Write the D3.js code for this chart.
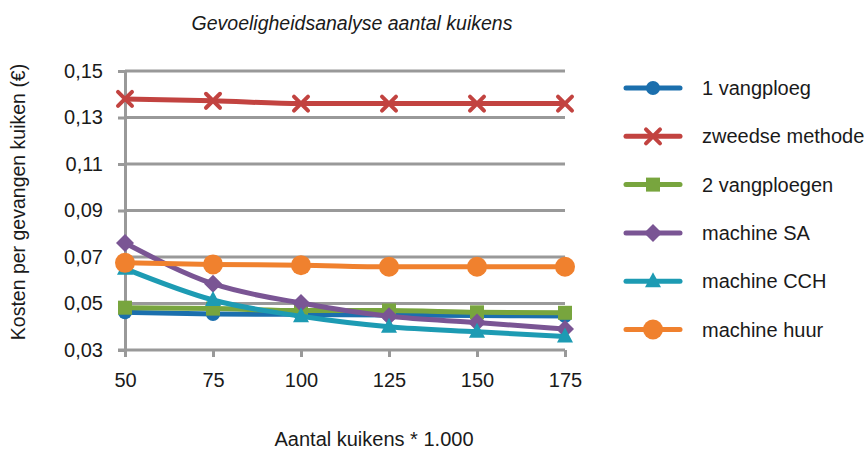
<!DOCTYPE html>
<html>
<head>
<meta charset="utf-8">
<script src="https://cdn.jsdelivr.net/npm/d3@7"></script>
<style>
  body { margin: 0; background: #fff; }
  text { font-family: "Liberation Sans", Arial, sans-serif; fill: #1a1a1a; }
</style>
</head>
<body>
<svg width="864" height="455"></svg>
<script>
// categories + series
var kuikens = ["50", "75", "100", "125", "150", "175"];
var yTicks = [0.03, 0.05, 0.07, 0.09, 0.11, 0.13, 0.15];

var vangploeg1 = [0.0462, 0.0455, 0.0453, 0.0450, 0.0448, 0.0446];
var zweedse    = [0.1380, 0.1372, 0.1360, 0.1360, 0.1360, 0.1360];
var vangploeg2 = [0.0482, 0.0478, 0.0470, 0.0470, 0.0462, 0.0460];
var machineSA  = [0.0760, 0.0585, 0.0502, 0.0445, 0.0418, 0.0390];
var machineCCH = [0.0650, 0.0515, 0.0445, 0.0400, 0.0378, 0.0358];
var machineHuur = [0.0675, 0.0668, 0.0665, 0.0658, 0.0658, 0.0658];

var series = [
  {name: "1 vangploeg", values: vangploeg1, color: "#1b6fad", marker: "circle"},
  {name: "zweedse methode", values: zweedse, color: "#c24340", marker: "cross"},
  {name: "2 vangploegen", values: vangploeg2, color: "#78a53e", marker: "square"},
  {name: "machine SA", values: machineSA, color: "#7a5594", marker: "diamond"},
  {name: "machine CCH", values: machineCCH, color: "#1d9bb3", marker: "triangle"},
  {name: "machine huur", values: machineHuur, color: "#f0812e", marker: "bigcircle"}
];

var margin = {top: 71, left: 125, right: 299, bottom: 105};
var width = 864 - margin.left - margin.right;   // 440
var height = 455 - margin.top - margin.bottom;  // 279

var svg = d3.select("svg");
var g = svg.append("g")
    .attr("transform", "translate(" + margin.left + "," + margin.top + ")");

var x = d3.scalePoint().domain(kuikens).range([0, width]);
var y = d3.scaleLinear().domain([0.03, 0.15]).range([height, 0]);
var fmt = function(d) { return d3.format(".2f")(d).replace(".", ","); };

// gridlines
g.selectAll(".grid").data(yTicks.slice(1)).enter().append("line")
    .attr("x1", 0).attr("x2", width)
    .attr("y1", d => y(d)).attr("y2", d => y(d))
    .attr("stroke", "#999").attr("stroke-width", 3);

// y axis
var yAxis = g.append("g").call(d3.axisLeft(y).tickValues(yTicks).tickFormat(fmt).tickSize(7).tickPadding(15));
yAxis.select(".domain").attr("stroke", "#999").attr("stroke-width", 3);
yAxis.selectAll(".tick line").attr("stroke", "#999").attr("stroke-width", 3);
yAxis.selectAll("text").style("font-size", "20px").attr("fill", "#1a1a1a");

// x axis
var xAxis = g.append("g").attr("transform", "translate(0," + height + ")")
    .call(d3.axisBottom(x).tickSize(7).tickPadding(16));
xAxis.select(".domain").attr("d", "M-7,0H" + width).attr("stroke", "#999").attr("stroke-width", 3);
xAxis.selectAll(".tick line").attr("stroke", "#999").attr("stroke-width", 3);
xAxis.selectAll("text").style("font-size", "20px").attr("fill", "#1a1a1a");

var line = d3.line().x((d, i) => x(kuikens[i])).y(d => y(d)).curve(d3.curveMonotoneX);

function drawMarker(sel, type, color) {
  if (type === "circle") {
    sel.append("circle").attr("r", 7).attr("fill", color);
  } else if (type === "bigcircle") {
    sel.append("circle").attr("r", 10).attr("fill", color);
  } else if (type === "square") {
    sel.append("rect").attr("x", -7).attr("y", -7).attr("width", 14).attr("height", 14).attr("fill", color);
  } else if (type === "diamond") {
    sel.append("path").attr("d", "M0,-9L9,0L0,9L-9,0Z").attr("fill", color);
  } else if (type === "triangle") {
    sel.append("path").attr("d", "M0,-9L8,6L-8,6Z").attr("fill", color);
  } else if (type === "cross") {
    sel.append("path").attr("d", "M-7,-7L7,7M-7,7L7,-7")
      .attr("stroke", color).attr("stroke-width", 4).attr("stroke-linecap", "round");
  }
}

series.forEach(function(s) {
  var sg = g.append("g");
  sg.append("path").datum(s.values)
    .attr("d", line).attr("fill", "none")
    .attr("stroke", s.color).attr("stroke-width", 5).attr("stroke-linejoin", "round");
  s.values.forEach(function(v, i) {
    var m = sg.append("g").attr("transform", "translate(" + x(kuikens[i]) + "," + y(v) + ")");
    drawMarker(m, s.marker, s.color);
  });
});

// legend
var legend = svg.append("g").attr("transform", "translate(626,88)");
series.forEach(function(s, i) {
  var lg = legend.append("g").attr("transform", "translate(0," + i * 48.3 + ")");
  lg.append("line").attr("x1", 0).attr("x2", 54)
    .attr("stroke", s.color).attr("stroke-width", 5).attr("stroke-linecap", "round");
  var m = lg.append("g").attr("transform", "translate(27,0)");
  drawMarker(m, s.marker, s.color);
  lg.append("text").attr("x", 76).attr("dy", "0.35em")
    .style("font-size", "20px").text(s.name);
});

// titles
svg.append("text").attr("x", 352).attr("y", 30).attr("text-anchor", "middle")
  .style("font-size", "19.5px").style("font-style", "italic").text("Gevoeligheidsanalyse aantal kuikens");
svg.append("text").attr("x", 374).attr("y", 446).attr("text-anchor", "middle")
  .style("font-size", "20px").text("Aantal kuikens * 1.000");
svg.append("text").attr("transform", "translate(25,202) rotate(-90)").attr("text-anchor", "middle")
  .style("font-size", "19.5px").text("Kosten per gevangen kuiken (€)");
</script>
</body>
</html>
